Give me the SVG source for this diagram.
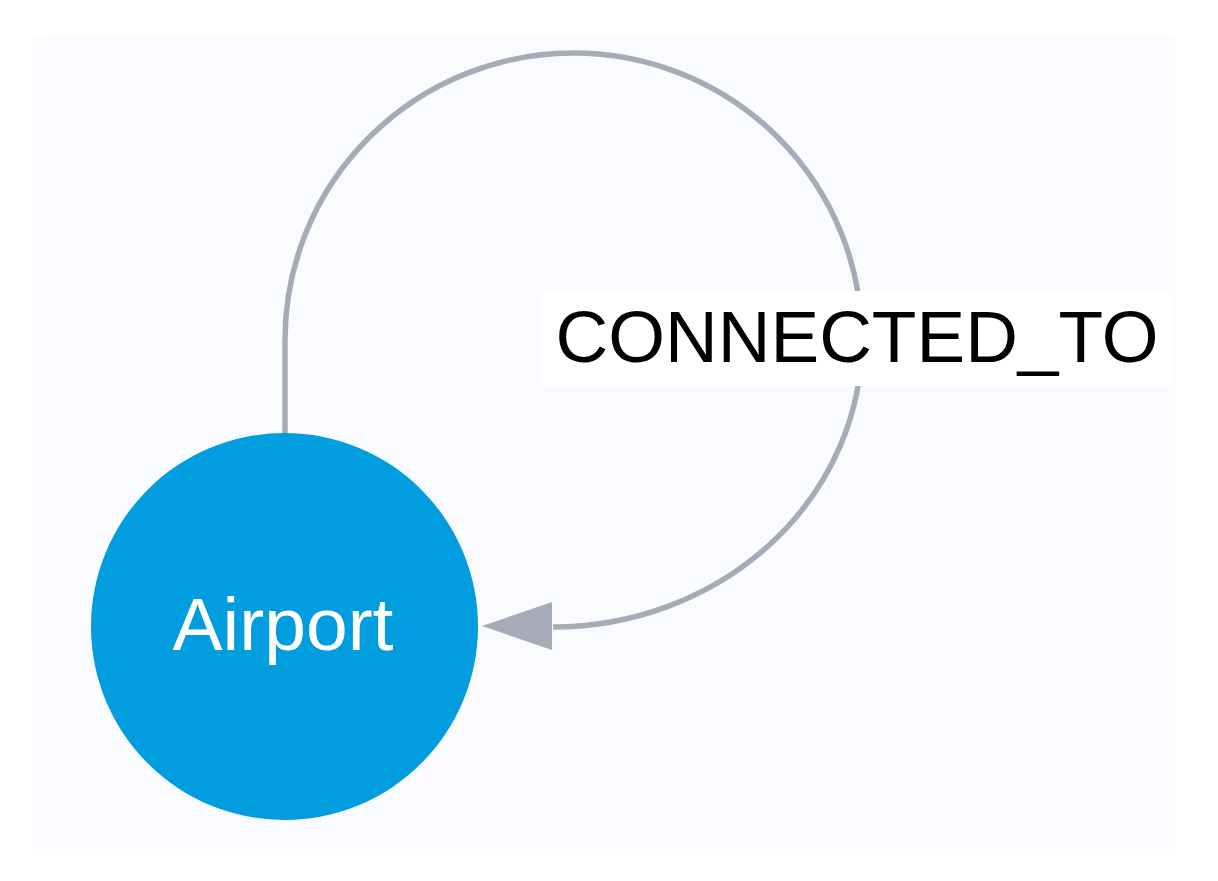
<svg xmlns="http://www.w3.org/2000/svg" width="1218" height="881" viewBox="0 0 1218 881">
<style>
.edge{fill:none;stroke:#a6acb7;stroke-width:5.5}
.node{fill:#019ddf}
.nlabel{font-family:"Liberation Sans",Arial,sans-serif;font-size:75px;fill:#ffffff;text-anchor:middle}
.elabel{font-family:"Liberation Sans",Arial,sans-serif;font-size:73px;fill:#000000;text-anchor:middle}
</style>
<rect x="0" y="0" width="1218" height="881" fill="#ffffff"/>
<rect x="33" y="38" width="1143" height="811" fill="#f9fbfe"/>
<g id="connectors">
<path class="edge" d="M285,433 L285,340 A288.5,287 0 0 1 862,340 A309,287 0 0 1 553,627"/>
<path d="M482,626 L552,602 L552,650 Z" fill="#a6acb7"/>
<g id="edge-label">
<rect x="539" y="291" width="634" height="95" rx="10" fill="#ffffff"/>
<text class="elabel" x="857" y="362">CONNECTED_TO</text>
</g>
</g>
<g id="node-airport">
<circle class="node" cx="284.5" cy="626.5" r="193.5"/>
<text class="nlabel" x="283" y="650">Airport</text>
</g>
</svg>
